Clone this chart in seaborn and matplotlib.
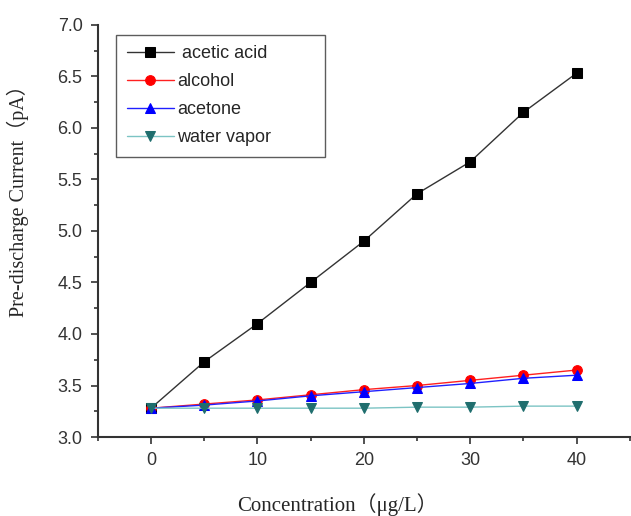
import matplotlib
matplotlib.use("Agg")
import matplotlib.pyplot as plt
import seaborn as sns
import pandas as pd
from matplotlib.ticker import MultipleLocator

concentration = [0, 5, 10, 15, 20, 25, 30, 35, 40]
acetic_acid = [3.28, 3.73, 4.10, 4.50, 4.90, 5.36, 5.67, 6.15, 6.53]
alcohol = [3.28, 3.32, 3.36, 3.41, 3.46, 3.50, 3.55, 3.60, 3.65]
acetone = [3.28, 3.31, 3.35, 3.40, 3.44, 3.48, 3.52, 3.57, 3.60]
water_vapor = [3.28, 3.28, 3.28, 3.28, 3.28, 3.29, 3.29, 3.30, 3.30]

series_names = [" acetic acid", "alcohol", "acetone", "water vapor"]
series_values = [acetic_acid, alcohol, acetone, water_vapor]
colors = ["#000000", "#ff0000", "#0000ff", "#1f6e6e"]
line_colors = ["#333333", "#ff2020", "#2020ff", "#7cc4c4"]
markers = ["s", "o", "^", "v"]

sns.set_style("ticks")
plt.rcParams["font.family"] = ["Liberation Sans", "DejaVu Sans"]

fig = plt.figure(figsize=(6.31, 5.16), dpi=100)
ax = fig.add_axes([0.155, 0.153, 0.843, 0.799])

for name, vals, c, lc, m in zip(series_names, series_values, colors, line_colors, markers):
    df = pd.DataFrame({"x": concentration, "y": vals})
    sns.lineplot(data=df, x="x", y="y", ax=ax, color=lc, linewidth=1.0,
                 marker=m, markersize=7, markerfacecolor=c, markeredgecolor=c,
                 label=name)

ax.set_xlim(-5, 45)
ax.set_ylim(3.0, 7.0)
ax.xaxis.set_minor_locator(MultipleLocator(5))
ax.yaxis.set_minor_locator(MultipleLocator(0.25))
ax.set_yticks([3.0, 3.5, 4.0, 4.5, 5.0, 5.5, 6.0, 6.5, 7.0])
ax.set_yticklabels(["3.0", "3.5", "4.0", "4.5", "5.0", "5.5", "6.0", "6.5", "7.0"])
ax.set_xticks([0, 10, 20, 30, 40])
ax.set_xticklabels(["0", "10", "20", "30", "40"])
ax.tick_params(axis="both", which="major", direction="out", length=5, width=1.2,
               labelsize=13, colors="#333333", pad=6)
ax.tick_params(axis="both", which="minor", direction="out", length=3, width=1.2,
               colors="#333333")
for s in ["top", "right"]:
    ax.spines[s].set_visible(False)
for s in ["left", "bottom"]:
    ax.spines[s].set_linewidth(1.5)
    ax.spines[s].set_color("#333333")

lab_font = ["Liberation Serif", "Noto Sans CJK SC"]
ax.set_xlabel("Concentration（μg/L）", fontsize=15, family=lab_font)
ax.set_ylabel("Pre-discharge Current（pA）", fontsize=14.5, family=lab_font)
ax.xaxis.set_label_coords(0.451, -0.135)
ax.yaxis.set_label_coords(-0.13, 0.585)

leg = ax.legend(loc="upper left", bbox_to_anchor=(0.034, 0.668, 0.393, 0.308),
                mode="expand", fontsize=13,
                frameon=True, fancybox=False, edgecolor="#333333",
                handlelength=2.6, handletextpad=0.2, borderpad=0.6,
                labelspacing=0.6, borderaxespad=0)
leg.get_frame().set_linewidth(1.0)

fig.savefig("out.png", dpi=100)
